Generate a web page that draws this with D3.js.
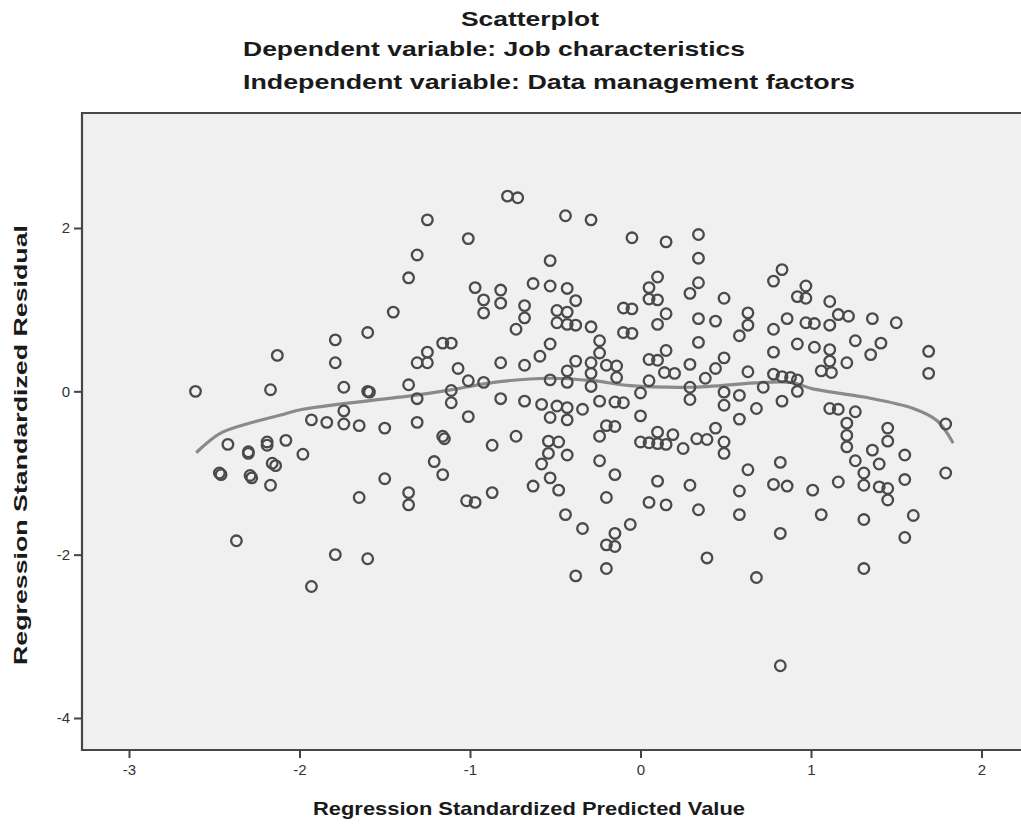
<!DOCTYPE html>
<html>
<head>
<meta charset="utf-8">
<script src="https://cdn.jsdelivr.net/npm/d3@7"></script>
<style>
  html, body { margin: 0; padding: 0; background: #ffffff; overflow: hidden; }
  svg { display: block; }
</style>
</head>
<body>
<svg id="chart" width="1021" height="827"></svg>
<script>
// ---------------- data ----------------
const titleLines = [
  "Scatterplot",
  "Dependent variable: Job characteristics",
  "Independent variable: Data management factors"
];
const xAxisTitle = "Regression Standardized Predicted Value";
const yAxisTitle = "Regression Standardized Residual";
const xTicks = [-3, -2, -1, 0, 1, 2];
const yTicks = [2, 0, -2, -4];

// Regression standardized predicted value (x) and residual (y)
const predicted = [
  -1.25,-1.31,-1.36,-1.45,-1.60,-1.79,-2.13,-1.79,-1.16,-1.11,-1.25,-1.31,-1.25,-1.07,-2.61,-2.17,-1.74,-1.60,-1.59,-1.36,
  -1.31,-1.11,-1.11,-1.93,-1.84,-1.74,-1.74,-1.65,-1.50,-1.31,-2.42,-2.30,-2.30,-2.19,-2.19,-2.08,-1.98,-2.47,-2.46,-2.29,
  -2.28,-2.16,-2.14,-2.17,-1.16,-1.15,-1.21,-1.16,-1.50,-1.65,-1.36,-1.36,-2.37,-1.79,-1.60,-1.93,-0.78,-0.72,-0.44,-0.29,
  -1.01,-0.53,-0.97,-0.82,-0.63,-0.53,-0.43,-0.92,-0.82,-0.38,-0.68,-0.92,-0.49,-0.43,-0.68,-0.73,-0.49,-0.43,-0.38,-0.29,
  -0.53,-0.24,-0.24,-0.59,-0.82,-0.68,-0.38,-0.29,-0.20,-0.14,-0.43,-0.29,-0.14,-1.01,-0.92,-0.53,-0.43,-0.29,-0.82,-0.68,
  -0.58,-0.49,-0.43,-0.34,-0.24,-0.15,-0.10,-1.01,-0.53,-0.43,-0.20,-0.15,-0.24,-0.87,-0.73,-0.54,-0.48,-0.54,-0.43,-0.58,
  -0.24,-0.15,-0.53,-0.63,-0.48,-0.87,-1.02,-0.97,-0.20,-0.44,-0.34,-0.06,-0.15,-0.20,-0.15,-0.20,-0.38,-0.05,0.15,0.34,
  0.34,0.83,0.78,0.10,0.05,0.34,0.29,0.49,0.05,0.10,-0.10,-0.05,0.15,0.34,0.44,0.63,0.63,0.58,0.10,-0.10,
  -0.05,0.78,0.86,0.34,0.15,0.49,0.05,0.10,0.29,0.44,0.78,0.14,0.20,0.63,0.38,0.05,0.78,0.83,0.29,0.29,
  0.00,0.49,0.49,0.58,0.72,0.83,0.68,0.00,0.58,0.10,0.19,0.00,0.05,0.10,0.15,0.25,0.33,0.39,0.44,0.49,
  0.49,0.63,0.82,0.10,0.29,0.58,0.78,0.86,0.05,0.15,0.34,0.58,0.82,0.39,0.68,0.82,0.97,0.92,0.97,1.11,
  0.97,1.02,1.11,1.16,1.22,1.36,1.50,1.26,1.41,1.35,0.92,1.02,1.11,1.11,1.21,1.06,1.12,1.69,1.69,0.88,
  0.92,0.92,1.11,1.16,1.26,1.21,1.21,1.21,1.45,1.45,1.79,1.36,1.26,1.40,1.55,1.31,1.31,1.16,1.01,1.40,
  1.45,1.45,1.55,1.79,1.06,1.31,1.60,1.55,1.31
];
const residual = [
  2.10,1.67,1.39,0.97,0.72,0.63,0.44,0.35,0.59,0.59,0.48,0.35,0.35,0.28,0.00,0.02,0.05,0.00,-0.01,0.08,
  -0.09,0.01,-0.14,-0.35,-0.38,-0.24,-0.40,-0.42,-0.45,-0.38,-0.65,-0.74,-0.76,-0.62,-0.66,-0.60,-0.77,-1.00,-1.02,-1.03,
  -1.06,-0.88,-0.91,-1.15,-0.55,-0.58,-0.86,-1.02,-1.07,-1.30,-1.24,-1.39,-1.83,-2.00,-2.05,-2.39,2.39,2.37,2.15,2.10,
  1.87,1.60,1.27,1.24,1.32,1.29,1.26,1.12,1.08,1.11,1.05,0.96,0.99,0.97,0.90,0.76,0.84,0.82,0.81,0.79,
  0.58,0.62,0.47,0.43,0.35,0.32,0.37,0.35,0.32,0.31,0.25,0.22,0.17,0.13,0.11,0.14,0.11,0.06,-0.09,-0.12,
  -0.16,-0.18,-0.20,-0.22,-0.12,-0.13,-0.14,-0.31,-0.32,-0.35,-0.42,-0.43,-0.55,-0.66,-0.55,-0.61,-0.62,-0.76,-0.78,-0.89,
  -0.85,-1.02,-1.06,-1.16,-1.21,-1.24,-1.34,-1.36,-1.30,-1.51,-1.68,-1.63,-1.74,-1.88,-1.90,-2.17,-2.26,1.88,1.83,1.92,
  1.63,1.49,1.35,1.40,1.27,1.33,1.20,1.14,1.13,1.12,1.02,1.01,0.95,0.89,0.86,0.96,0.81,0.68,0.82,0.72,
  0.71,0.76,0.89,0.60,0.50,0.41,0.39,0.38,0.33,0.28,0.48,0.23,0.22,0.24,0.16,0.13,0.21,0.18,0.05,-0.10,
  -0.02,-0.01,-0.17,-0.05,0.05,-0.12,-0.21,-0.30,-0.34,-0.50,-0.53,-0.62,-0.63,-0.64,-0.65,-0.70,-0.58,-0.59,-0.45,-0.62,
  -0.76,-0.96,-0.87,-1.10,-1.15,-1.22,-1.14,-1.16,-1.36,-1.39,-1.45,-1.51,-1.74,-2.04,-2.28,-3.36,1.29,1.16,1.14,1.10,
  0.84,0.83,0.81,0.94,0.92,0.89,0.84,0.62,0.59,0.45,0.58,0.54,0.51,0.37,0.35,0.25,0.23,0.49,0.22,0.17,
  0.14,0.00,-0.21,-0.22,-0.25,-0.39,-0.54,-0.68,-0.45,-0.61,-0.40,-0.72,-0.85,-0.89,-0.78,-1.00,-1.15,-1.11,-1.21,-1.17,
  -1.19,-1.33,-1.08,-1.00,-1.51,-1.57,-1.52,-1.79,-2.17
];

// Fit line (loess)
const fitX = [-2.60,-2.47,-2.31,-2.11,-1.98,-1.33,-1.08,-0.86,-0.53,-0.28,-0.06,0.29,0.88,1.01,1.31,1.60,1.74,1.83];
const fitY = [-0.74,-0.52,-0.40,-0.29,-0.22,-0.05,0.03,0.11,0.16,0.13,0.07,0.05,0.11,0.03,-0.07,-0.21,-0.36,-0.62];

// ---------------- layout ----------------
const W = 1021, H = 827;
const frame = { left: 82, top: 113, bottom: 750, right: W };

const x = d3.scaleLinear().domain([-3, 2]).range([129, 981.5]);
const y = d3.scaleLinear().domain([2, -4]).range([228, 718]);

const svg = d3.select("#chart");
svg.append("rect").attr("width", W).attr("height", H).attr("fill", "#ffffff");

// plot background
svg.append("rect")
  .attr("x", frame.left).attr("y", frame.top)
  .attr("width", frame.right - frame.left).attr("height", frame.bottom - frame.top)
  .attr("fill", "#f0f0f0");

// frame: left, top, bottom (right side is cut off in the source)
svg.append("path")
  .attr("d", `M${frame.right},${frame.top}H${frame.left}V${frame.bottom}H${frame.right}`)
  .attr("fill", "none")
  .attr("stroke", "#474747").attr("stroke-width", 2.2);

// axes
const tickFont = "'Liberation Sans Narrow', 'Liberation Sans', Arial, sans-serif";
const xAxis = d3.axisBottom(x).tickValues(xTicks).tickSize(8).tickPadding(6).tickFormat(d => String(d));
const gx = svg.append("g").attr("transform", `translate(0,${frame.bottom})`).call(xAxis);
gx.select(".domain").remove();
gx.selectAll(".tick line").attr("stroke", "#444").attr("stroke-width", 2);
gx.selectAll(".tick text")
  .attr("fill", "#333").attr("font-family", tickFont).attr("font-size", 15);

const yAxis = d3.axisLeft(y).tickValues(yTicks).tickSize(8).tickPadding(4).tickFormat(d => String(d));
const gy = svg.append("g").attr("transform", `translate(${frame.left},0)`).call(yAxis);
gy.select(".domain").remove();
gy.selectAll(".tick line").attr("stroke", "#444").attr("stroke-width", 2);
gy.selectAll(".tick text")
  .attr("fill", "#333").attr("font-family", tickFont).attr("font-size", 15);

// fit line
const fitData = fitX.map((v, i) => [v, fitY[i]]);
svg.append("path")
  .datum(fitData)
  .attr("fill", "none")
  .attr("stroke", "#8a8a8a")
  .attr("stroke-width", 3.2)
  .attr("stroke-linecap", "round")
  .attr("d", d3.line().x(d => x(d[0])).y(d => y(d[1])).curve(d3.curveCatmullRom.alpha(0.5)));

// points
const pts = predicted.map((v, i) => [v, residual[i]]);
svg.append("g").selectAll("circle")
  .data(pts).join("circle")
  .attr("cx", d => x(d[0])).attr("cy", d => y(d[1]))
  .attr("r", 5.3)
  .attr("fill", "none")
  .attr("stroke", "#4a4a4a")
  .attr("stroke-width", 2.3);

// titles
const font = "'Liberation Sans', Arial, sans-serif";
const titleSpecs = [
  { x: 461, y: 26, w: 138 },
  { x: 243, y: 56, w: 502 },
  { x: 243, y: 89, w: 612 }
];
titleLines.forEach((t, i) => {
  svg.append("text")
    .attr("x", titleSpecs[i].x).attr("y", titleSpecs[i].y)
    .attr("font-family", font).attr("font-weight", "bold").attr("font-size", 21)
    .attr("fill", "#1a1a1a")
    .attr("textLength", titleSpecs[i].w).attr("lengthAdjust", "spacingAndGlyphs")
    .text(t);
});

svg.append("text")
  .attr("x", 313).attr("y", 815)
  .attr("font-family", font).attr("font-weight", "bold").attr("font-size", 19)
  .attr("fill", "#1a1a1a")
  .attr("textLength", 432).attr("lengthAdjust", "spacingAndGlyphs")
  .text(xAxisTitle);

svg.append("text")
  .attr("transform", "translate(27,665) rotate(-90)")
  .attr("font-family", font).attr("font-weight", "bold").attr("font-size", 19)
  .attr("fill", "#1a1a1a")
  .attr("textLength", 440).attr("lengthAdjust", "spacingAndGlyphs")
  .text(yAxisTitle);
</script>
</body>
</html>
